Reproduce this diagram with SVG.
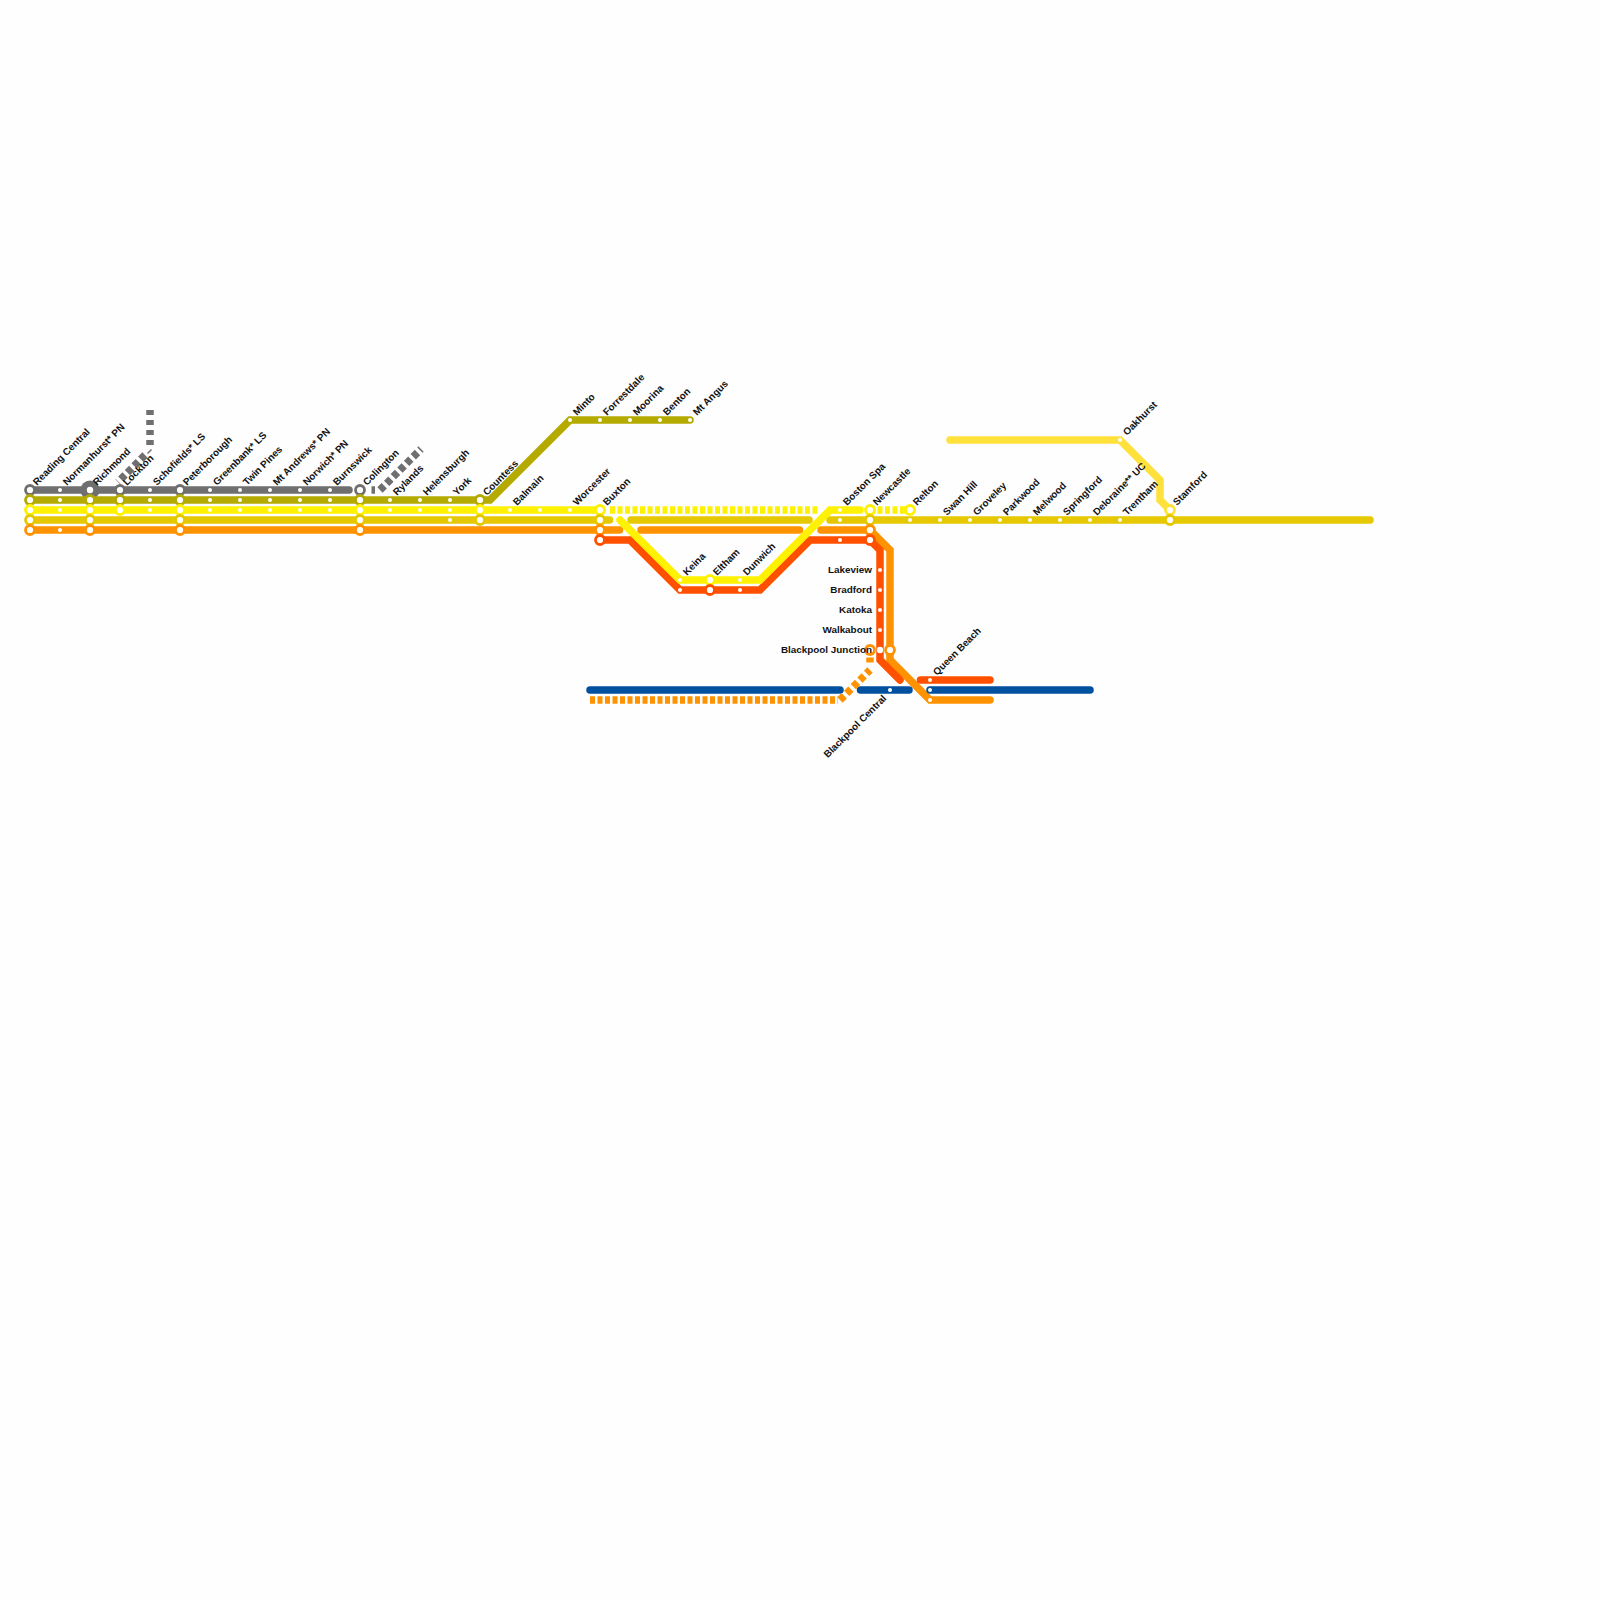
<svg xmlns="http://www.w3.org/2000/svg" width="1600" height="1600" viewBox="0 0 1600 1600">
<style>
.ln{fill:none;stroke-width:7.5;stroke-linecap:round;stroke-linejoin:miter}
.gy{stroke:#6f6f6f}.ol{stroke:#b5aa00}.ye{stroke:#fff200}.go{stroke:#e6c800}.or{stroke:#ff9200}.re{stroke:#ff5000}.bl{stroke:#0050a0}.pa{stroke:#ffe13c}
.ds{stroke-linecap:butt;stroke-dasharray:5 2.5}.dg{stroke-linecap:butt;stroke-dasharray:5 5}.dd{stroke-linecap:butt;stroke-dasharray:6 3.4}.bt{stroke-linecap:butt}.sl{stroke-linecap:butt;stroke-width:1.5}
.d{fill:#fff}
.r{fill:#fff;stroke-width:2.8}
text{font-family:"Liberation Sans",Arial,sans-serif;font-size:9.9px;font-weight:bold;fill:#111}
.e{text-anchor:end}
</style>
<rect width="1600" height="1600" fill="#fefefe"/>
<g id="richmond-base"><circle cx="90" cy="490" r="9.5" fill="#6f6f6f"/></g>
<g id="connectors">
<path class="ln gy" d="M30 490H349"/>
<path class="ln gy dg" d="M150 410V446"/>
<path class="ln gy sl" d="M151.5 449.5L147.5 453.5"/>
<path class="ln gy dd" d="M145 455L118 482"/>
<path class="ln gy bt" d="M371.5 490H375"/>
<path class="ln gy dd" d="M380 490L421 449"/>
<path class="ln ol" d="M30 500H490L570 420H690"/>
<path class="ln ye" d="M30 510H600"/>
<path class="ln ye ds" d="M610 510H818"/>
<path class="ln ye ds" d="M870 510H910"/>
<path class="ln go" d="M30 520H609.5"/>
<path class="ln go" d="M631 520H809"/>
<path class="ln go" d="M830 520H1370"/>
<path class="ln or" d="M30 530H619.5"/>
<path class="ln or" d="M641 530H799.5"/>
<path class="ln or" d="M821 530H870L890 550V660L930 700H990"/>
<path class="ln re" d="M600 540H630L680 590H760L810 540H870L880 550V660L900 680"/>
<path class="ln re" d="M920.5 680H990"/>
<path class="ln ye" d="M620 520L680 580H760L830 510H860"/>
<path class="ln bl" d="M590 690H840"/>
<path class="ln bl" d="M860.5 690H909"/>
<path class="ln bl" d="M930 690H1090"/>
<path class="ln or ds" d="M590 700H838"/>
<path class="ln or dd" d="M840 700L870 670"/>
<path class="ln or ds" d="M870 662.5V650"/>
<path class="ln pa" d="M950 440H1120L1160 480V500L1170 510"/>
</g>
<g id="st-reading-central"><circle class="r gy" cx="30" cy="490" r="4.5"/><circle class="r ol" cx="30" cy="500" r="4.5"/><circle class="r ye" cx="30" cy="510" r="4.5"/><circle class="r go" cx="30" cy="520" r="4.5"/><circle class="r or" cx="30" cy="530" r="4.5"/><text transform="translate(37 486) rotate(-45)">Reading Central</text></g>
<g id="st-normanhurst"><circle class="d" cx="60" cy="490" r="2"/><circle class="d" cx="60" cy="500" r="2"/><circle class="d" cx="60" cy="510" r="2"/><circle class="d" cx="60" cy="530" r="2"/><text transform="translate(67 486) rotate(-45)">Normanhurst* PN</text></g>
<g id="st-richmond"><circle class="d" cx="90" cy="490" r="3.2"/><circle class="r ol" cx="90" cy="500" r="4.5"/><circle class="r ye" cx="90" cy="510" r="4.5"/><circle class="r go" cx="90" cy="520" r="4.5"/><circle class="r or" cx="90" cy="530" r="4.5"/><text transform="translate(97 486) rotate(-45)">Richmond</text></g>
<g id="st-lockton"><circle class="r gy" cx="120" cy="490" r="4.5"/><circle class="r ol" cx="120" cy="500" r="4.5"/><circle class="r ye" cx="120" cy="510" r="4.5"/><text transform="translate(127 486) rotate(-45)">Lockton</text></g>
<g id="st-schofields"><circle class="d" cx="150" cy="490" r="2"/><circle class="d" cx="150" cy="500" r="2"/><circle class="d" cx="150" cy="510" r="2"/><text transform="translate(157 486) rotate(-45)">Schofields* LS</text></g>
<g id="st-peterborough"><circle class="r gy" cx="180" cy="490" r="4.5"/><circle class="r ol" cx="180" cy="500" r="4.5"/><circle class="r ye" cx="180" cy="510" r="4.5"/><circle class="r go" cx="180" cy="520" r="4.5"/><circle class="r or" cx="180" cy="530" r="4.5"/><text transform="translate(187 486) rotate(-45)">Peterborough</text></g>
<g id="st-greenbank"><circle class="d" cx="210" cy="490" r="2"/><circle class="d" cx="210" cy="500" r="2"/><circle class="d" cx="210" cy="510" r="2"/><text transform="translate(217 486) rotate(-45)">Greenbank* LS</text></g>
<g id="st-twin-pines"><circle class="d" cx="240" cy="490" r="2"/><circle class="d" cx="240" cy="500" r="2"/><circle class="d" cx="240" cy="510" r="2"/><text transform="translate(247 486) rotate(-45)">Twin Pines</text></g>
<g id="st-mt-andrews"><circle class="d" cx="270" cy="490" r="2"/><circle class="d" cx="270" cy="500" r="2"/><circle class="d" cx="270" cy="510" r="2"/><text transform="translate(277 486) rotate(-45)">Mt Andrews* PN</text></g>
<g id="st-norwich"><circle class="d" cx="300" cy="490" r="2"/><circle class="d" cx="300" cy="500" r="2"/><circle class="d" cx="300" cy="510" r="2"/><text transform="translate(307 486) rotate(-45)">Norwich* PN</text></g>
<g id="st-burnswick"><circle class="d" cx="330" cy="490" r="2"/><circle class="d" cx="330" cy="500" r="2"/><circle class="d" cx="330" cy="510" r="2"/><text transform="translate(337 486) rotate(-45)">Burnswick</text></g>
<g id="st-colington"><circle class="r gy" cx="360" cy="490" r="4.5"/><circle class="r ol" cx="360" cy="500" r="4.5"/><circle class="r ye" cx="360" cy="510" r="4.5"/><circle class="r go" cx="360" cy="520" r="4.5"/><circle class="r or" cx="360" cy="530" r="4.5"/><text transform="translate(367 486) rotate(-45)">Colington</text></g>
<g id="st-rylands"><circle class="d" cx="390" cy="500" r="2"/><circle class="d" cx="390" cy="510" r="2"/><text transform="translate(397 496) rotate(-45)">Rylands</text></g>
<g id="st-helensburgh"><circle class="d" cx="420" cy="500" r="2"/><circle class="d" cx="420" cy="510" r="2"/><text transform="translate(427 496) rotate(-45)">Helensburgh</text></g>
<g id="st-york"><circle class="d" cx="450" cy="500" r="2"/><circle class="d" cx="450" cy="510" r="2"/><circle class="d" cx="450" cy="520" r="2"/><text transform="translate(457 496) rotate(-45)">York</text></g>
<g id="st-countess"><circle class="r ol" cx="480" cy="500" r="4.5"/><circle class="r ye" cx="480" cy="510" r="4.5"/><circle class="r go" cx="480" cy="520" r="4.5"/><text transform="translate(487 496) rotate(-45)">Countess</text></g>
<g id="st-balmain"><circle class="d" cx="510" cy="510" r="2"/><text transform="translate(517 506) rotate(-45)">Balmain</text></g>
<g id="st-unnamed"><circle class="d" cx="540" cy="510" r="2"/></g>
<g id="st-worcester"><circle class="d" cx="570" cy="510" r="2"/><text transform="translate(577 506) rotate(-45)">Worcester</text></g>
<g id="st-buxton"><circle class="r ye" cx="600" cy="510" r="4.5"/><circle class="r go" cx="600" cy="520" r="4.5"/><circle class="r or" cx="600" cy="530" r="4.5"/><circle class="r re" cx="600" cy="540" r="4.5"/><text transform="translate(607 506) rotate(-45)">Buxton</text></g>
<g id="st-minto"><circle class="d" cx="570" cy="420" r="2"/><text transform="translate(577 416) rotate(-45)">Minto</text></g>
<g id="st-forrestdale"><circle class="d" cx="600" cy="420" r="2"/><text transform="translate(607 416) rotate(-45)">Forrestdale</text></g>
<g id="st-moorina"><circle class="d" cx="630" cy="420" r="2"/><text transform="translate(637 416) rotate(-45)">Moorina</text></g>
<g id="st-benton"><circle class="d" cx="660" cy="420" r="2"/><text transform="translate(667 416) rotate(-45)">Benton</text></g>
<g id="st-mt-angus"><circle class="d" cx="690" cy="420" r="2"/><text transform="translate(697 416) rotate(-45)">Mt Angus</text></g>
<g id="st-keina"><circle class="d" cx="680" cy="580" r="2"/><circle class="d" cx="680" cy="590" r="2"/><text transform="translate(687 576) rotate(-45)">Keina</text></g>
<g id="st-eltham"><circle class="r ye" cx="710" cy="580" r="4.5"/><circle class="r re" cx="710" cy="590" r="4.5"/><text transform="translate(717 576) rotate(-45)">Eltham</text></g>
<g id="st-dunwich"><circle class="d" cx="740" cy="580" r="2"/><circle class="d" cx="740" cy="590" r="2"/><text transform="translate(747 576) rotate(-45)">Dunwich</text></g>
<g id="st-boston-spa"><circle class="d" cx="840" cy="510" r="2"/><circle class="d" cx="840" cy="520" r="2"/><circle class="d" cx="840" cy="540" r="2"/><text transform="translate(847 506) rotate(-45)">Boston Spa</text></g>
<g id="st-newcastle"><circle class="r ye" cx="870" cy="510" r="4.5"/><circle class="r go" cx="870" cy="520" r="4.5"/><circle class="r or" cx="870" cy="530" r="4.5"/><circle class="r re" cx="870" cy="540" r="4.5"/><text transform="translate(877 506) rotate(-45)">Newcastle</text></g>
<g id="st-relton"><circle class="r ye" cx="910" cy="510" r="4.5"/><circle class="d" cx="910" cy="520" r="2"/><text transform="translate(917 506) rotate(-45)">Relton</text></g>
<g id="st-swan-hill"><circle class="d" cx="940" cy="520" r="2"/><text transform="translate(947 516) rotate(-45)">Swan Hill</text></g>
<g id="st-groveley"><circle class="d" cx="970" cy="520" r="2"/><text transform="translate(977 516) rotate(-45)">Groveley</text></g>
<g id="st-parkwood"><circle class="d" cx="1000" cy="520" r="2"/><text transform="translate(1007 516) rotate(-45)">Parkwood</text></g>
<g id="st-melwood"><circle class="d" cx="1030" cy="520" r="2"/><text transform="translate(1037 516) rotate(-45)">Melwood</text></g>
<g id="st-springford"><circle class="d" cx="1060" cy="520" r="2"/><text transform="translate(1067 516) rotate(-45)">Springford</text></g>
<g id="st-deloraine"><circle class="d" cx="1090" cy="520" r="2"/><text transform="translate(1097 516) rotate(-45)">Deloraine** UC</text></g>
<g id="st-trentham"><circle class="d" cx="1120" cy="520" r="2"/><text transform="translate(1127 516) rotate(-45)">Trentham</text></g>
<g id="st-stamford"><circle class="r pa" cx="1170" cy="510" r="4.5"/><circle class="r go" cx="1170" cy="520" r="4.5"/><text transform="translate(1177 506) rotate(-45)">Stamford</text></g>
<g id="st-oakhurst"><circle class="d" cx="1120" cy="440" r="2"/><text transform="translate(1127 436) rotate(-45)">Oakhurst</text></g>
<g id="st-lakeview"><circle class="d" cx="880" cy="570" r="2"/><text class="e" x="872" y="573">Lakeview</text></g>
<g id="st-bradford"><circle class="d" cx="880" cy="590" r="2"/><text class="e" x="872" y="593">Bradford</text></g>
<g id="st-katoka"><circle class="d" cx="880" cy="610" r="2"/><text class="e" x="872" y="613">Katoka</text></g>
<g id="st-walkabout"><circle class="d" cx="880" cy="630" r="2"/><text class="e" x="872" y="633">Walkabout</text></g>
<g id="st-blackpool-junction"><circle class="r or" cx="870" cy="650" r="4.5"/><circle class="d" cx="880" cy="650" r="3.2"/><circle class="r or" cx="890" cy="650" r="4.5"/><text class="e" x="872" y="653">Blackpool Junction</text></g>
<g id="st-blackpool-central"><circle class="d" cx="890" cy="690" r="2"/><text class="e" transform="translate(887 699) rotate(-45)">Blackpool Central</text></g>
<g id="st-queen-beach"><circle class="d" cx="930" cy="680" r="2"/><circle class="d" cx="930" cy="690" r="2"/><circle class="d" cx="930" cy="700" r="2"/><text transform="translate(937 676) rotate(-45)">Queen Beach</text></g>
</svg>
